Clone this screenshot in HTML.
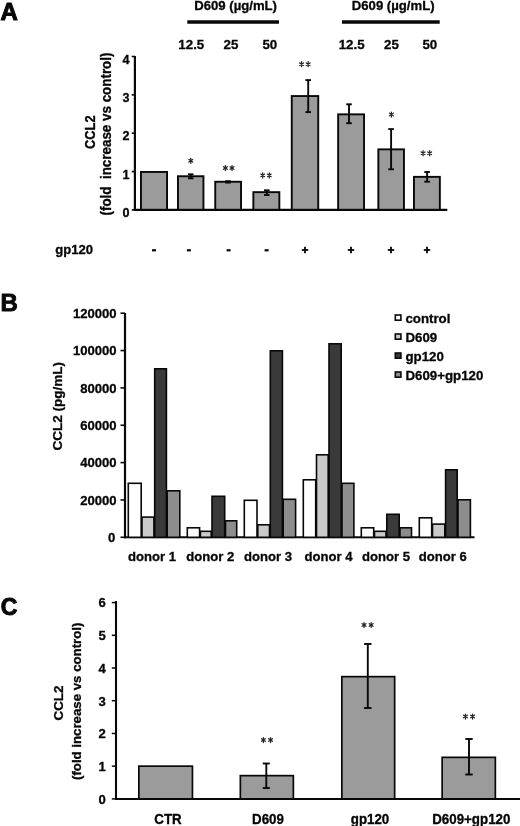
<!DOCTYPE html>
<html><head><meta charset="utf-8"><title>Figure</title>
<style>
html,body{margin:0;padding:0;background:#fff;}
body{width:520px;height:826px;overflow:hidden;}
svg{display:block;filter:grayscale(1) blur(0.3px);}
svg text{font-family:"Liberation Sans",sans-serif;fill:#060606;white-space:pre;}
svg text.b{stroke:#060606;stroke-width:0.3px;}
</style></head><body>
<svg width="520" height="826" viewBox="0 0 520 826">
<rect x="0" y="0" width="520" height="826" fill="#ffffff"/>
<text transform="translate(0.4,20.1) scale(1.0,1)" font-size="24" font-weight="bold" stroke="#080808" stroke-width="1.0" stroke-linejoin="round">A</text>
<text transform="translate(235.6,9.9) scale(1.02,1.0)" font-size="12.9" font-weight="bold" text-anchor="middle" class="b">D609 (µg/mL)</text>
<text transform="translate(393.2,9.9) scale(1.02,1.0)" font-size="12.9" font-weight="bold" text-anchor="middle" class="b">D609 (µg/mL)</text>
<line x1="187.3" y1="22.1" x2="279" y2="22.1" stroke="#080808" stroke-width="3.5"/>
<line x1="342" y1="22.1" x2="439.7" y2="22.1" stroke="#080808" stroke-width="3.5"/>
<text transform="translate(191.3,49.3) scale(1.0,1.0)" font-size="13.3" font-weight="bold" text-anchor="middle" class="b">12.5</text>
<text transform="translate(231,49.3) scale(1.0,1.0)" font-size="13.3" font-weight="bold" text-anchor="middle" class="b">25</text>
<text transform="translate(269.8,49.3) scale(1.0,1.0)" font-size="13.3" font-weight="bold" text-anchor="middle" class="b">50</text>
<text transform="translate(351.6,49.3) scale(1.0,1.0)" font-size="13.3" font-weight="bold" text-anchor="middle" class="b">12.5</text>
<text transform="translate(391.5,49.3) scale(1.0,1.0)" font-size="13.3" font-weight="bold" text-anchor="middle" class="b">25</text>
<text transform="translate(429.8,49.3) scale(1.0,1.0)" font-size="13.3" font-weight="bold" text-anchor="middle" class="b">50</text>
<line x1="134.9" y1="56" x2="134.9" y2="210.9" stroke="#080808" stroke-width="2.2"/>
<line x1="133.9" y1="209.9" x2="447.3" y2="209.9" stroke="#080808" stroke-width="2.2"/>
<line x1="131.70000000000002" y1="209.9" x2="134.9" y2="209.9" stroke="#080808" stroke-width="1.6"/>
<text transform="translate(129.5,217.0) scale(1.0,1.0)" font-size="12.6" font-weight="bold" text-anchor="end" class="b">0</text>
<line x1="131.70000000000002" y1="171.55" x2="134.9" y2="171.55" stroke="#080808" stroke-width="1.6"/>
<text transform="translate(129.5,178.65) scale(1.0,1.0)" font-size="12.6" font-weight="bold" text-anchor="end" class="b">1</text>
<line x1="131.70000000000002" y1="133.2" x2="134.9" y2="133.2" stroke="#080808" stroke-width="1.6"/>
<text transform="translate(129.5,140.29999999999998) scale(1.0,1.0)" font-size="12.6" font-weight="bold" text-anchor="end" class="b">2</text>
<line x1="131.70000000000002" y1="94.85" x2="134.9" y2="94.85" stroke="#080808" stroke-width="1.6"/>
<text transform="translate(129.5,101.94999999999999) scale(1.0,1.0)" font-size="12.6" font-weight="bold" text-anchor="end" class="b">3</text>
<line x1="131.70000000000002" y1="56.5" x2="134.9" y2="56.5" stroke="#080808" stroke-width="1.6"/>
<text transform="translate(129.5,63.6) scale(1.0,1.0)" font-size="12.6" font-weight="bold" text-anchor="end" class="b">4</text>
<text transform="translate(95.3,132.2) rotate(-90) scale(1.0,1.15)" font-size="12.8" font-weight="bold" text-anchor="middle" class="b" xml:space="preserve">CCL2</text>
<text transform="translate(111,134) rotate(-90) scale(1.0,1.08)" font-size="13.4" font-weight="bold" text-anchor="middle" class="b" xml:space="preserve">(fold  increase vs control)</text>
<rect x="140.95" y="171.95" width="26.10" height="37.80" fill="#9b9b9b" stroke="#080808" stroke-width="1.9"/>
<rect x="177.95" y="176.25" width="25.50" height="33.50" fill="#9b9b9b" stroke="#080808" stroke-width="1.9"/>
<rect x="215.25" y="181.75" width="25.80" height="28.00" fill="#9b9b9b" stroke="#080808" stroke-width="1.9"/>
<rect x="253.35" y="192.15" width="26.00" height="17.60" fill="#9b9b9b" stroke="#080808" stroke-width="1.9"/>
<rect x="291.75" y="96.05" width="26.50" height="113.70" fill="#9b9b9b" stroke="#080808" stroke-width="1.9"/>
<rect x="338.15" y="114.35" width="25.90" height="95.40" fill="#9b9b9b" stroke="#080808" stroke-width="1.9"/>
<rect x="378.35" y="149.35" width="25.60" height="60.40" fill="#9b9b9b" stroke="#080808" stroke-width="1.9"/>
<rect x="413.95" y="176.85" width="25.90" height="32.90" fill="#9b9b9b" stroke="#080808" stroke-width="1.9"/>
<line x1="190.7" y1="174.3" x2="190.7" y2="178.3" stroke="#080808" stroke-width="1.9"/>
<line x1="187.89999999999998" y1="174.3" x2="193.5" y2="174.3" stroke="#080808" stroke-width="1.9"/>
<line x1="187.89999999999998" y1="178.3" x2="193.5" y2="178.3" stroke="#080808" stroke-width="1.9"/>
<line x1="228" y1="181.2" x2="228" y2="182.6" stroke="#080808" stroke-width="1.9"/>
<line x1="225.2" y1="181.2" x2="230.8" y2="181.2" stroke="#080808" stroke-width="1.9"/>
<line x1="225.2" y1="182.6" x2="230.8" y2="182.6" stroke="#080808" stroke-width="1.9"/>
<line x1="266.8" y1="190.3" x2="266.8" y2="195" stroke="#080808" stroke-width="1.9"/>
<line x1="264.0" y1="190.3" x2="269.6" y2="190.3" stroke="#080808" stroke-width="1.9"/>
<line x1="264.0" y1="195" x2="269.6" y2="195" stroke="#080808" stroke-width="1.9"/>
<line x1="308.2" y1="80.1" x2="308.2" y2="112.1" stroke="#080808" stroke-width="1.9"/>
<line x1="305.4" y1="80.1" x2="311.0" y2="80.1" stroke="#080808" stroke-width="1.9"/>
<line x1="305.4" y1="112.1" x2="311.0" y2="112.1" stroke="#080808" stroke-width="1.9"/>
<line x1="349" y1="104.3" x2="349" y2="123.2" stroke="#080808" stroke-width="1.9"/>
<line x1="346.2" y1="104.3" x2="351.8" y2="104.3" stroke="#080808" stroke-width="1.9"/>
<line x1="346.2" y1="123.2" x2="351.8" y2="123.2" stroke="#080808" stroke-width="1.9"/>
<line x1="391.1" y1="129.1" x2="391.1" y2="169.3" stroke="#080808" stroke-width="1.9"/>
<line x1="388.3" y1="129.1" x2="393.90000000000003" y2="129.1" stroke="#080808" stroke-width="1.9"/>
<line x1="388.3" y1="169.3" x2="393.90000000000003" y2="169.3" stroke="#080808" stroke-width="1.9"/>
<line x1="427.1" y1="172" x2="427.1" y2="181.7" stroke="#080808" stroke-width="1.9"/>
<line x1="424.3" y1="172" x2="429.90000000000003" y2="172" stroke="#080808" stroke-width="1.9"/>
<line x1="424.3" y1="181.7" x2="429.90000000000003" y2="181.7" stroke="#080808" stroke-width="1.9"/>
<path d="M190.80,158.30V163.30M188.90,159.50L192.70,162.10M188.90,162.10L192.70,159.50" stroke="#262626" stroke-width="1.25" fill="none" stroke-linecap="round"/>
<path d="M225.40,165.50V170.50M223.50,166.70L227.30,169.30M223.50,169.30L227.30,166.70" stroke="#262626" stroke-width="1.25" fill="none" stroke-linecap="round"/>
<path d="M232.00,165.50V170.50M230.10,166.70L233.90,169.30M230.10,169.30L233.90,166.70" stroke="#262626" stroke-width="1.25" fill="none" stroke-linecap="round"/>
<path d="M262.70,172.90V177.90M260.80,174.10L264.60,176.70M260.80,176.70L264.60,174.10" stroke="#262626" stroke-width="1.25" fill="none" stroke-linecap="round"/>
<path d="M269.30,172.90V177.90M267.40,174.10L271.20,176.70M267.40,176.70L271.20,174.10" stroke="#262626" stroke-width="1.25" fill="none" stroke-linecap="round"/>
<path d="M301.55,61.70V66.70M299.65,62.90L303.45,65.50M299.65,65.50L303.45,62.90" stroke="#262626" stroke-width="1.25" fill="none" stroke-linecap="round"/>
<path d="M308.15,61.70V66.70M306.25,62.90L310.05,65.50M306.25,65.50L310.05,62.90" stroke="#262626" stroke-width="1.25" fill="none" stroke-linecap="round"/>
<path d="M391.40,112.00V117.00M389.50,113.20L393.30,115.80M389.50,115.80L393.30,113.20" stroke="#262626" stroke-width="1.25" fill="none" stroke-linecap="round"/>
<path d="M423.05,150.70V155.70M421.15,151.90L424.95,154.50M421.15,154.50L424.95,151.90" stroke="#262626" stroke-width="1.25" fill="none" stroke-linecap="round"/>
<path d="M429.65,150.70V155.70M427.75,151.90L431.55,154.50M427.75,154.50L431.55,151.90" stroke="#262626" stroke-width="1.25" fill="none" stroke-linecap="round"/>
<text transform="translate(55.2,253.8) scale(1.0,1.0)" font-size="13.1" font-weight="bold" text-anchor="start" class="b">gp120</text>
<line x1="152" y1="250.3" x2="156" y2="250.3" stroke="#080808" stroke-width="2.2"/>
<line x1="186.9" y1="250.3" x2="190.9" y2="250.3" stroke="#080808" stroke-width="2.2"/>
<line x1="226.6" y1="250.3" x2="230.6" y2="250.3" stroke="#080808" stroke-width="2.2"/>
<line x1="264.6" y1="250.3" x2="268.6" y2="250.3" stroke="#080808" stroke-width="2.2"/>
<line x1="301.8" y1="250" x2="308.2" y2="250" stroke="#080808" stroke-width="1.8"/>
<line x1="305" y1="246.8" x2="305" y2="253.2" stroke="#080808" stroke-width="1.8"/>
<line x1="347.8" y1="250" x2="354.2" y2="250" stroke="#080808" stroke-width="1.8"/>
<line x1="351" y1="246.8" x2="351" y2="253.2" stroke="#080808" stroke-width="1.8"/>
<line x1="387.8" y1="250" x2="394.2" y2="250" stroke="#080808" stroke-width="1.8"/>
<line x1="391" y1="246.8" x2="391" y2="253.2" stroke="#080808" stroke-width="1.8"/>
<line x1="423.8" y1="250" x2="430.2" y2="250" stroke="#080808" stroke-width="1.8"/>
<line x1="427" y1="246.8" x2="427" y2="253.2" stroke="#080808" stroke-width="1.8"/>
<text transform="translate(0.4,310.8) scale(1.0,1)" font-size="24" font-weight="bold" stroke="#080808" stroke-width="0.9" stroke-linejoin="round">B</text>
<line x1="125" y1="313" x2="125" y2="538.3" stroke="#080808" stroke-width="2.2"/>
<line x1="124" y1="537.3" x2="474.5" y2="537.3" stroke="#080808" stroke-width="2"/>
<line x1="120.5" y1="537.3" x2="125" y2="537.3" stroke="#080808" stroke-width="1.6"/>
<text transform="translate(115.3,542.0) scale(1.0,1.0)" font-size="13.1" font-weight="bold" text-anchor="end" class="b">0</text>
<line x1="120.5" y1="499.94999999999993" x2="125" y2="499.94999999999993" stroke="#080808" stroke-width="1.6"/>
<text transform="translate(116.6,504.6499999999999) scale(1.0,1.0)" font-size="13.1" font-weight="bold" text-anchor="end" class="b">20000</text>
<line x1="120.5" y1="462.59999999999997" x2="125" y2="462.59999999999997" stroke="#080808" stroke-width="1.6"/>
<text transform="translate(116.6,467.29999999999995) scale(1.0,1.0)" font-size="13.1" font-weight="bold" text-anchor="end" class="b">40000</text>
<line x1="120.5" y1="425.24999999999994" x2="125" y2="425.24999999999994" stroke="#080808" stroke-width="1.6"/>
<text transform="translate(116.6,429.94999999999993) scale(1.0,1.0)" font-size="13.1" font-weight="bold" text-anchor="end" class="b">60000</text>
<line x1="120.5" y1="387.9" x2="125" y2="387.9" stroke="#080808" stroke-width="1.6"/>
<text transform="translate(116.6,392.59999999999997) scale(1.0,1.0)" font-size="13.1" font-weight="bold" text-anchor="end" class="b">80000</text>
<line x1="120.5" y1="350.54999999999995" x2="125" y2="350.54999999999995" stroke="#080808" stroke-width="1.6"/>
<text transform="translate(116.6,355.24999999999994) scale(1.0,1.0)" font-size="13.1" font-weight="bold" text-anchor="end" class="b">100000</text>
<line x1="120.5" y1="313.19999999999993" x2="125" y2="313.19999999999993" stroke="#080808" stroke-width="1.6"/>
<text transform="translate(116.6,317.8999999999999) scale(1.0,1.0)" font-size="13.1" font-weight="bold" text-anchor="end" class="b">120000</text>
<text transform="translate(61.7,406.2) rotate(-90) scale(1.1,1.0)" font-size="12.3" font-weight="bold" text-anchor="middle" class="b" xml:space="preserve">CCL2 (pg/mL)</text>
<rect x="128.30" y="483.30" width="12.90" height="54.00" fill="#ffffff" stroke="#080808" stroke-width="1.6"/>
<rect x="142.00" y="517.10" width="11.90" height="20.20" fill="#cacaca" stroke="#080808" stroke-width="1.6"/>
<rect x="154.70" y="368.80" width="11.70" height="168.50" fill="#3a3a3a" stroke="#080808" stroke-width="1.6"/>
<rect x="167.20" y="490.80" width="12.60" height="46.50" fill="#8d8d8d" stroke="#080808" stroke-width="1.6"/>
<rect x="187.30" y="527.80" width="12.30" height="9.50" fill="#ffffff" stroke="#080808" stroke-width="1.6"/>
<rect x="200.40" y="531.30" width="10.80" height="6.00" fill="#cacaca" stroke="#080808" stroke-width="1.6"/>
<rect x="212.00" y="496.30" width="12.70" height="41.00" fill="#3a3a3a" stroke="#080808" stroke-width="1.6"/>
<rect x="225.50" y="520.80" width="11.20" height="16.50" fill="#8d8d8d" stroke="#080808" stroke-width="1.6"/>
<rect x="244.30" y="500.30" width="12.70" height="37.00" fill="#ffffff" stroke="#080808" stroke-width="1.6"/>
<rect x="257.80" y="524.80" width="11.70" height="12.50" fill="#cacaca" stroke="#080808" stroke-width="1.6"/>
<rect x="270.30" y="350.80" width="12.10" height="186.50" fill="#3a3a3a" stroke="#080808" stroke-width="1.6"/>
<rect x="283.20" y="499.30" width="12.40" height="38.00" fill="#8d8d8d" stroke="#080808" stroke-width="1.6"/>
<rect x="303.30" y="479.80" width="12.40" height="57.50" fill="#ffffff" stroke="#080808" stroke-width="1.6"/>
<rect x="316.50" y="454.80" width="11.70" height="82.50" fill="#cacaca" stroke="#080808" stroke-width="1.6"/>
<rect x="329.00" y="343.80" width="12.20" height="193.50" fill="#3a3a3a" stroke="#080808" stroke-width="1.6"/>
<rect x="342.00" y="483.30" width="11.90" height="54.00" fill="#8d8d8d" stroke="#080808" stroke-width="1.6"/>
<rect x="361.30" y="527.80" width="12.40" height="9.50" fill="#ffffff" stroke="#080808" stroke-width="1.6"/>
<rect x="374.50" y="531.30" width="11.50" height="6.00" fill="#cacaca" stroke="#080808" stroke-width="1.6"/>
<rect x="386.80" y="514.30" width="12.40" height="23.00" fill="#3a3a3a" stroke="#080808" stroke-width="1.6"/>
<rect x="400.00" y="527.80" width="11.50" height="9.50" fill="#8d8d8d" stroke="#080808" stroke-width="1.6"/>
<rect x="419.30" y="517.80" width="12.40" height="19.50" fill="#ffffff" stroke="#080808" stroke-width="1.6"/>
<rect x="432.50" y="524.10" width="12.30" height="13.20" fill="#cacaca" stroke="#080808" stroke-width="1.6"/>
<rect x="445.60" y="469.80" width="11.60" height="67.50" fill="#3a3a3a" stroke="#080808" stroke-width="1.6"/>
<rect x="458.00" y="499.80" width="12.40" height="37.50" fill="#8d8d8d" stroke="#080808" stroke-width="1.6"/>
<text transform="translate(152,561.2) scale(1.0,1.0)" font-size="13.1" font-weight="bold" text-anchor="middle" class="b">donor 1</text>
<text transform="translate(210.2,561.2) scale(1.0,1.0)" font-size="13.1" font-weight="bold" text-anchor="middle" class="b">donor 2</text>
<text transform="translate(268,561.2) scale(1.0,1.0)" font-size="13.1" font-weight="bold" text-anchor="middle" class="b">donor 3</text>
<text transform="translate(328.5,561.2) scale(1.0,1.0)" font-size="13.1" font-weight="bold" text-anchor="middle" class="b">donor 4</text>
<text transform="translate(386,561.2) scale(1.0,1.0)" font-size="13.1" font-weight="bold" text-anchor="middle" class="b">donor 5</text>
<text transform="translate(442.8,561.2) scale(1.0,1.0)" font-size="13.1" font-weight="bold" text-anchor="middle" class="b">donor 6</text>
<rect x="395.30" y="315.00" width="5.60" height="5.20" fill="#ffffff" stroke="#080808" stroke-width="1.6"/>
<text transform="translate(405.4,322.9) scale(1.015,1.0)" font-size="13.1" font-weight="bold" text-anchor="start" class="b">control</text>
<rect x="395.30" y="334.00" width="5.60" height="5.20" fill="#cacaca" stroke="#080808" stroke-width="1.6"/>
<text transform="translate(405.4,341.9) scale(1.015,1.0)" font-size="13.1" font-weight="bold" text-anchor="start" class="b">D609</text>
<rect x="395.30" y="353.00" width="5.60" height="5.20" fill="#3a3a3a" stroke="#080808" stroke-width="1.6"/>
<text transform="translate(405.4,360.9) scale(1.015,1.0)" font-size="13.1" font-weight="bold" text-anchor="start" class="b">gp120</text>
<rect x="395.30" y="372.00" width="5.60" height="5.20" fill="#8d8d8d" stroke="#080808" stroke-width="1.6"/>
<text transform="translate(405.4,379.9) scale(1.015,1.0)" font-size="13.1" font-weight="bold" text-anchor="start" class="b">D609+gp120</text>
<text transform="translate(0.8,615.2) scale(0.96,1)" font-size="24" font-weight="bold" stroke="#080808" stroke-width="1.0" stroke-linejoin="round">C</text>
<line x1="116" y1="601" x2="116" y2="799.9" stroke="#080808" stroke-width="2.1"/>
<line x1="115" y1="798.9" x2="520" y2="798.9" stroke="#080808" stroke-width="2"/>
<line x1="111.8" y1="798.9" x2="116" y2="798.9" stroke="#080808" stroke-width="1.5"/>
<text transform="translate(105.7,803.8) scale(1.0,1.0)" font-size="13.1" font-weight="bold" text-anchor="end" class="b">0</text>
<line x1="111.8" y1="766.18" x2="116" y2="766.18" stroke="#080808" stroke-width="1.5"/>
<text transform="translate(105.7,771.0799999999999) scale(1.0,1.0)" font-size="13.1" font-weight="bold" text-anchor="end" class="b">1</text>
<line x1="111.8" y1="733.46" x2="116" y2="733.46" stroke="#080808" stroke-width="1.5"/>
<text transform="translate(105.7,738.36) scale(1.0,1.0)" font-size="13.1" font-weight="bold" text-anchor="end" class="b">2</text>
<line x1="111.8" y1="700.74" x2="116" y2="700.74" stroke="#080808" stroke-width="1.5"/>
<text transform="translate(105.7,705.64) scale(1.0,1.0)" font-size="13.1" font-weight="bold" text-anchor="end" class="b">3</text>
<line x1="111.8" y1="668.02" x2="116" y2="668.02" stroke="#080808" stroke-width="1.5"/>
<text transform="translate(105.7,672.92) scale(1.0,1.0)" font-size="13.1" font-weight="bold" text-anchor="end" class="b">4</text>
<line x1="111.8" y1="635.3" x2="116" y2="635.3" stroke="#080808" stroke-width="1.5"/>
<text transform="translate(105.7,640.1999999999999) scale(1.0,1.0)" font-size="13.1" font-weight="bold" text-anchor="end" class="b">5</text>
<line x1="111.8" y1="602.5799999999999" x2="116" y2="602.5799999999999" stroke="#080808" stroke-width="1.5"/>
<text transform="translate(105.7,607.4799999999999) scale(1.0,1.0)" font-size="13.1" font-weight="bold" text-anchor="end" class="b">6</text>
<text transform="translate(63.4,703) rotate(-90) scale(1.12,1.0)" font-size="12" font-weight="bold" text-anchor="middle" class="b" xml:space="preserve">CCL2</text>
<text transform="translate(80.6,701.3) rotate(-90) scale(1.105,1.04)" font-size="12" font-weight="bold" text-anchor="middle" class="b" xml:space="preserve">(fold increase vs control)</text>
<rect x="138.85" y="766.15" width="53.60" height="32.70" fill="#9b9b9b" stroke="#080808" stroke-width="1.7"/>
<rect x="240.35" y="775.65" width="53.00" height="23.20" fill="#9b9b9b" stroke="#080808" stroke-width="1.7"/>
<rect x="341.85" y="676.65" width="52.80" height="122.20" fill="#9b9b9b" stroke="#080808" stroke-width="1.7"/>
<rect x="442.15" y="757.35" width="53.20" height="41.50" fill="#9b9b9b" stroke="#080808" stroke-width="1.7"/>
<line x1="266.3" y1="763.5" x2="266.3" y2="788" stroke="#080808" stroke-width="1.9"/>
<line x1="262.8" y1="763.5" x2="269.8" y2="763.5" stroke="#080808" stroke-width="1.9"/>
<line x1="262.8" y1="788" x2="269.8" y2="788" stroke="#080808" stroke-width="1.9"/>
<line x1="367.8" y1="644" x2="367.8" y2="708" stroke="#080808" stroke-width="1.9"/>
<line x1="364.1" y1="644" x2="371.5" y2="644" stroke="#080808" stroke-width="1.9"/>
<line x1="364.1" y1="708" x2="371.5" y2="708" stroke="#080808" stroke-width="1.9"/>
<line x1="469" y1="739" x2="469" y2="774.5" stroke="#080808" stroke-width="1.9"/>
<line x1="465.3" y1="739" x2="472.7" y2="739" stroke="#080808" stroke-width="1.9"/>
<line x1="465.3" y1="774.5" x2="472.7" y2="774.5" stroke="#080808" stroke-width="1.9"/>
<path d="M263.45,737.50V742.50M261.55,738.70L265.35,741.30M261.55,741.30L265.35,738.70" stroke="#262626" stroke-width="1.25" fill="none" stroke-linecap="round"/>
<path d="M270.55,737.50V742.50M268.65,738.70L272.45,741.30M268.65,741.30L272.45,738.70" stroke="#262626" stroke-width="1.25" fill="none" stroke-linecap="round"/>
<path d="M364.05,622.50V627.50M362.15,623.70L365.95,626.30M362.15,626.30L365.95,623.70" stroke="#262626" stroke-width="1.25" fill="none" stroke-linecap="round"/>
<path d="M371.15,622.50V627.50M369.25,623.70L373.05,626.30M369.25,626.30L373.05,623.70" stroke="#262626" stroke-width="1.25" fill="none" stroke-linecap="round"/>
<path d="M465.45,714.00V719.00M463.55,715.20L467.35,717.80M463.55,717.80L467.35,715.20" stroke="#262626" stroke-width="1.25" fill="none" stroke-linecap="round"/>
<path d="M472.55,714.00V719.00M470.65,715.20L474.45,717.80M470.65,717.80L474.45,715.20" stroke="#262626" stroke-width="1.25" fill="none" stroke-linecap="round"/>
<text transform="translate(168,823.8) scale(1.01,1.06)" font-size="13.2" font-weight="bold" text-anchor="middle" class="b">CTR</text>
<text transform="translate(268,823.8) scale(1.01,1.06)" font-size="13.2" font-weight="bold" text-anchor="middle" class="b">D609</text>
<text transform="translate(370,823.8) scale(1.01,1.06)" font-size="13.2" font-weight="bold" text-anchor="middle" class="b">gp120</text>
<text transform="translate(471.3,823.8) scale(1.01,1.06)" font-size="13.2" font-weight="bold" text-anchor="middle" class="b">D609+gp120</text>
</svg>
</body></html>
